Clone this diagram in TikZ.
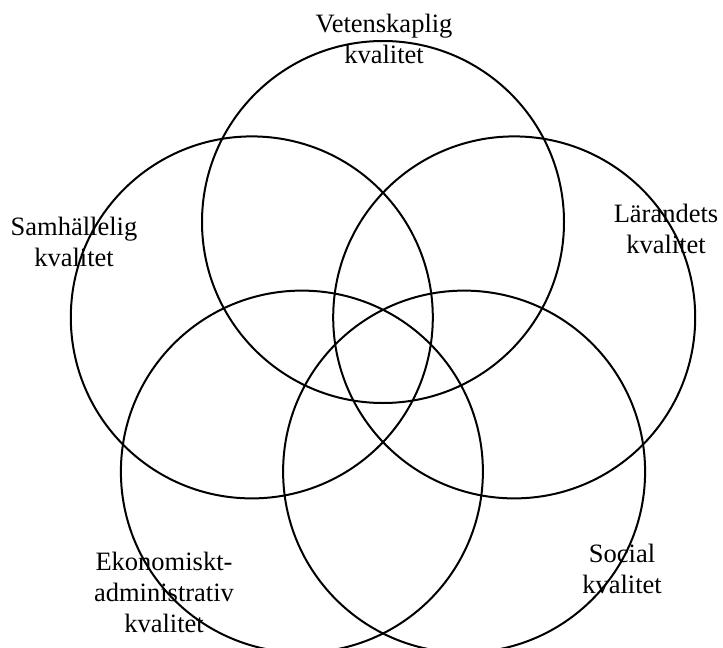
\documentclass[tikz,border=0pt]{standalone}
\usepackage{fontspec}
\setmainfont{Liberation Serif}
\begin{document}
\begin{tikzpicture}[x=1pt,y=-1pt,
  ring/.style={draw=black, line width=2pt},
  lbl/.style={font=\fontsize{26.5}{31}\selectfont, align=center, inner sep=0pt}]
\useasboundingbox (0,0) rectangle (723,648);
\clip (0,0) rectangle (723,648);
\coordinate (ctop) at (383,222);
\coordinate (cleft) at (251.8,317.4);
\coordinate (cright) at (514.2,317.4);
\coordinate (cbl) at (301.9,471.6);
\coordinate (cbr) at (464.1,471.6);
\draw[ring] (ctop) circle[radius=181pt];
\draw[ring] (cleft) circle[radius=181pt];
\draw[ring] (cright) circle[radius=181pt];
\draw[ring] (cbl) circle[radius=181pt];
\draw[ring] (cbr) circle[radius=181pt];
\node[lbl] (vet) at (384,39) {Vetenskaplig\\kvalitet};
\node[lbl] (sam) at (74,241.5) {Samhällelig\\kvalitet};
\node[lbl] (lar) at (666,229) {Lärandets\\kvalitet};
\node[lbl] (eko) at (164,592.5) {Ekonomiskt-\\administrativ\\kvalitet};
\node[lbl] (soc) at (622,569) {Social\\kvalitet};
\end{tikzpicture}
\end{document}
